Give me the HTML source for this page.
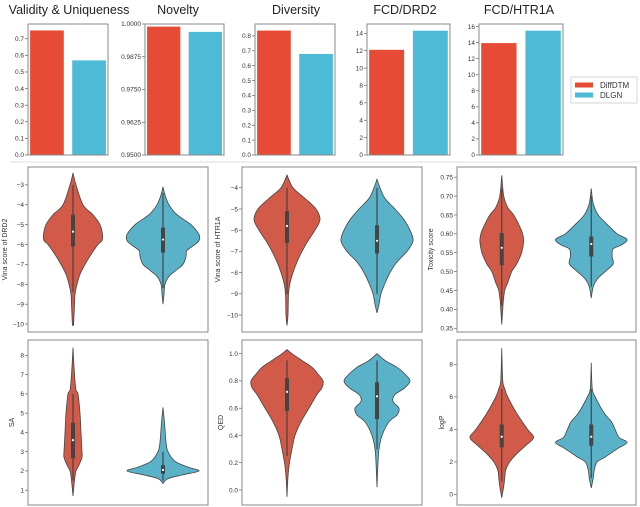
<!DOCTYPE html>
<html><head><meta charset="utf-8">
<style>
html,body{margin:0;padding:0;background:#fff;}
svg{display:block;font-family:"Liberation Sans","DejaVu Sans",sans-serif;}
.tk{font-size:6.5px;fill:#333;}
.ttl{font-size:12.5px;fill:#222;}
.yl{font-size:7px;fill:#333;}
</style></head>
<body>
<svg id="fig" width="640" height="507" viewBox="0 0 640 507">
<line x1="10" y1="162" x2="640" y2="162" stroke="#ddd" stroke-width="1"/>
<g>
<rect x="571" y="77" width="66" height="26" fill="#fff" stroke="#ccc" stroke-width="0.8"/>
<rect x="575" y="82.5" width="18" height="5" fill="#e64b35"/>
<text x="600" y="88" font-size="8" fill="#333">DiffDTM</text>
<rect x="575" y="92.5" width="18" height="5" fill="#4dbbd5"/>
<text x="600" y="98" font-size="8" fill="#333">DLGN</text>
</g>
</svg>
<script>
// ---- bar chart data ----
const barTitles = ["Validity & Uniqueness","Novelty","Diversity","FCD/DRD2","FCD/HTR1A"];
const barDiffDTM = [0.75, 0.999, 0.836, 12.1, 13.95];
const barDLGN = [0.57, 0.997, 0.679, 14.3, 15.5];
const barYMin = [0, 0.95, 0, 0, 0];
const barYMax = [0.789, 1.0, 0.88, 15.07, 16.33];
const barTicks0 = ["0.0","0.1","0.2","0.3","0.4","0.5","0.6","0.7"];
const barTicks1 = ["0.9500","0.9625","0.9750","0.9875","1.0000"];
const barTicks2 = ["0.0","0.1","0.2","0.3","0.4","0.5","0.6","0.7","0.8"];
const barTicks3 = ["0","2","4","6","8","10","12","14"];
const barTicks4 = ["0","2","4","6","8","10","12","14","16"];
// ---- violin data ----
const vioLabels = ["Vina score of DRD2","Vina score of HTR1A","Toxicity score","SA","QED","logP"];
const vioYMin = [-10.4, -10.8, 0.340, 0.23, -0.11, -0.65];
const vioYMax = [-2.1, -3.02, 0.777, 8.8, 1.1, 9.5];
const vioTicks0 = ["-10","-9","-8","-7","-6","-5","-4","-3"];
const vioTicks1 = ["-10","-9","-8","-7","-6","-5","-4"];
const vioTicks2 = ["0.35","0.40","0.45","0.50","0.55","0.60","0.65","0.70","0.75"];
const vioTicks3 = ["1","2","3","4","5","6","7","8"];
const vioTicks4 = ["0.0","0.2","0.4","0.6","0.8","1.0"];
const vioTicks5 = ["0","2","4","6","8"];
// density profiles: values (top→bottom) and relative widths
const dRedV = [[-2.4,-3,-4,-4.5,-5,-5.5,-5.8,-6,-6.5,-7,-7.5,-8,-8.5,-9,-10,-10],
 [-3.4,-4,-4.5,-5,-5.5,-6,-6.5,-7,-7.5,-8,-8.5,-9,-10,-10.5],
 [0.755,0.70,0.67,0.65,0.62,0.60,0.58,0.55,0.52,0.50,0.47,0.45,0.42,0.40,0.36],
 [8.4,7,6.2,6,5,4,3,2.7,2.3,2,1.5,0.7],
 [1.03,1.0,0.95,0.9,0.85,0.8,0.75,0.7,0.6,0.5,0.4,0.3,0.2,0.1,-0.05],
 [9,7,6.5,6,5,4,3.5,3,2.5,2,1.5,1,0.5,-0.2]];
const dRedW = [[0,3,10,20,27,29.5,29,25,18,12,7,4,2,1.5,0.6,0],
 [0,6,18,29,33,28,21,15,10,6,3,1.5,1,0],
 [0,2,6,12,18,21,22,20,15,10,6,3,1.5,1,0],
 [0,1.5,3,5,7,8,9,9,6,3,1.5,0],
 [0,5,15,25,31,36,35,30,22,14,8,5,2.5,1,0],
 [0,1,3,6,15,26,32,24,15,8,4,3,2,0]];
const dBlueV = [[-3.1,-3.5,-4,-4.5,-5,-5.5,-5.8,-6,-6.3,-6.6,-7,-7.3,-7.6,-8,-8.5,-9],
 [-3.6,-4,-4.5,-5,-5.5,-6,-6.5,-7,-7.5,-8,-8.5,-9,-9.5,-9.9],
 [0.72,0.68,0.65,0.62,0.60,0.585,0.57,0.56,0.54,0.52,0.50,0.48,0.46,0.43],
 [5.3,4.5,3.5,3,2.5,2.2,2.0,1.8,1.6,1.35],
 [1.0,0.95,0.9,0.85,0.8,0.75,0.7,0.65,0.6,0.55,0.5,0.4,0.3,0.2,0.02],
 [8.1,6.5,6,5,4.5,4,3.5,3.2,2.8,2.3,2,1.5,1,0.4]];
const dBlueW = [[0,2,6,14,28,36,36,32,24,23,20,13,6,2,1,0],
 [0,3,8,18,27,33,36,30,20,13,8,4,2,0],
 [0,2,7,18,26,36,30,22,21,22,14,6,2,0],
 [0,1.5,3,5,12,25,36,20,5,0],
 [0,8,20,28,33,28,18,16,22,20,12,5,2,1,0],
 [0,1,4,13,20,24,28,36,26,14,6,3,2,0]];
// box stats: [q1, median, q3, whiskerLow, whiskerHigh]
const boxRed = [[-6.1,-5.35,-4.5,-8.4,-3],[-6.6,-5.8,-5.1,-9,-4],[0.517,0.563,0.602,0.41,0.72],[2.65,3.6,4.5,1.5,6],[0.58,0.72,0.82,0.25,0.95],[2.9,3.55,4.3,0.8,6.5]];
const boxBlue = [[-6.4,-5.75,-5.15,-8.2,-3.4],[-7.1,-6.5,-5.77,-9,-4],[0.54,0.573,0.593,0.46,0.70],[1.85,2.05,2.3,1.5,3],[0.52,0.687,0.79,0.3,0.95],[3.0,3.55,4.3,1.0,6.5]];

const NS="http://www.w3.org/2000/svg";
const svg=document.getElementById('fig');
function mk(tag,attrs,parent){const e=document.createElementNS(NS,tag);for(const k in attrs)e.setAttribute(k,attrs[k]);(parent||svg).appendChild(e);return e;}

const barTickSets=[barTicks0,barTicks1,barTicks2,barTicks3,barTicks4];
const barPanels=[[28,108],[145,224],[255,335],[367,450],[479,563]];
const titleX=[69,178,296,405,519];
const BT=24,BB=155;
barTitles.forEach((t,i)=>{
  const g=mk('g',{});
  
  
  const [x0,x1]=barPanels[i];
  const y=v=>BB-(v-barYMin[i])/(barYMax[i]-barYMin[i])*(BB-BT);
  const unit=(x1-x0)/1.9;
  const xc=c=>x0+(c+0.45)*unit;
  const tt=mk('text',{x:titleX[i],y:14,'text-anchor':'middle',class:'ttl'},g);
  
  
  tt.textContent=t;
  [barDiffDTM[i],barDLGN[i]].forEach((v,c)=>{
    const r=mk('rect',{x:xc(c)-0.4*unit,y:y(v),width:0.8*unit,height:BB-y(v),fill:c?'#4dbbd5':'#e64b35'},g);
    
    
  });
  barTickSets[i].forEach(s=>{
    const v=parseFloat(s),yy=y(v);
    mk('line',{x1:x0-3,x2:x0,y1:yy,y2:yy,stroke:'#444','stroke-width':0.6},g);
    const tx=mk('text',{x:x0-4,y:yy+2.2,'text-anchor':'end',class:'tk'},g);
    
    
    tx.textContent=s;
  });
  const f=mk('rect',{x:x0,y:BT,width:x1-x0,height:BB-BT,fill:'none',stroke:'#888','stroke-width':1},g);
  
  
});

const vioTickSets=[vioTicks0,vioTicks1,vioTicks2,vioTicks3,vioTicks4,vioTicks5];
const vioPanels=[[28,208,167,332],[242,422,167,332],[457,636,167,332],[28,208,340,505],[242,422,340,505],[457,636,340,505]];
const ylabX=[7,220,433,14,223,444];
function smooth(pts){
  let d='M'+pts[0][0]+','+pts[0][1];
  for(let i=0;i<pts.length-1;i++){
    const p0=pts[Math.max(0,i-1)],p1=pts[i],p2=pts[i+1],p3=pts[Math.min(pts.length-1,i+2)];
    const c1=[p1[0]+(p2[0]-p0[0])/6,p1[1]+(p2[1]-p0[1])/6];
    const c2=[p2[0]-(p3[0]-p1[0])/6,p2[1]-(p3[1]-p1[1])/6];
    d+=' C'+c1[0]+','+c1[1]+' '+c2[0]+','+c2[1]+' '+p2[0]+','+p2[1];
  }
  return d;
}
vioLabels.forEach((lab,i)=>{
  const g=mk('g',{});
  
  
  const [x0,x1,y0,y1]=vioPanels[i];
  const y=v=>y1-(v-vioYMin[i])/(vioYMax[i]-vioYMin[i])*(y1-y0);
  const cw=(x1-x0)/2;
  const xc=c=>x0+cw*(c+0.5);
  const sc=cw/90;
  [[dRedV[i],dRedW[i],boxRed[i],'#d15a48'],[dBlueV[i],dBlueW[i],boxBlue[i],'#5ab2c9']].forEach(([vs,ws,bx,col],c)=>{
    const cx=xc(c);
    const right=vs.map((v,k)=>[cx+ws[k]*sc,y(v)]);
    const left=vs.map((v,k)=>[cx-ws[k]*sc,y(v)]).reverse();
    const p=mk('path',{d:smooth(right)+' '+smooth(left).replace('M','L')+' Z',fill:col,stroke:'#444','stroke-width':0.8},g);
    
    
    const w=mk('line',{x1:cx,x2:cx,y1:y(bx[3]),y2:y(bx[4]),stroke:'#444','stroke-width':1.2},g);
    
    
    const b=mk('rect',{x:cx-2,y:y(bx[2]),width:4,height:y(bx[0])-y(bx[2]),fill:'#444'},g);
    
    
    const m=mk('circle',{cx:cx,cy:y(bx[1]),r:1.1,fill:'#fff'},g);
    
    
  });
  vioTickSets[i].forEach(s=>{
    const v=parseFloat(s),yy=y(v);
    mk('line',{x1:x0-3,x2:x0,y1:yy,y2:yy,stroke:'#444','stroke-width':0.6},g);
    const tx=mk('text',{x:x0-4,y:yy+2.3,'text-anchor':'end',class:'tk'},g);
    
    
    tx.textContent=s.replace('-','\u2212');
  });
  const yc=(y0+y1)/2;
  const yl=mk('text',{x:ylabX[i],y:yc,'text-anchor':'middle',class:'yl',transform:'rotate(-90 '+ylabX[i]+' '+yc+')'},g);
  
  
  yl.textContent=lab;
  const f=mk('rect',{x:x0,y:y0,width:x1-x0,height:y1-y0,fill:'none',stroke:'#888','stroke-width':1},g);
  
  
});
</script>
</body></html>
